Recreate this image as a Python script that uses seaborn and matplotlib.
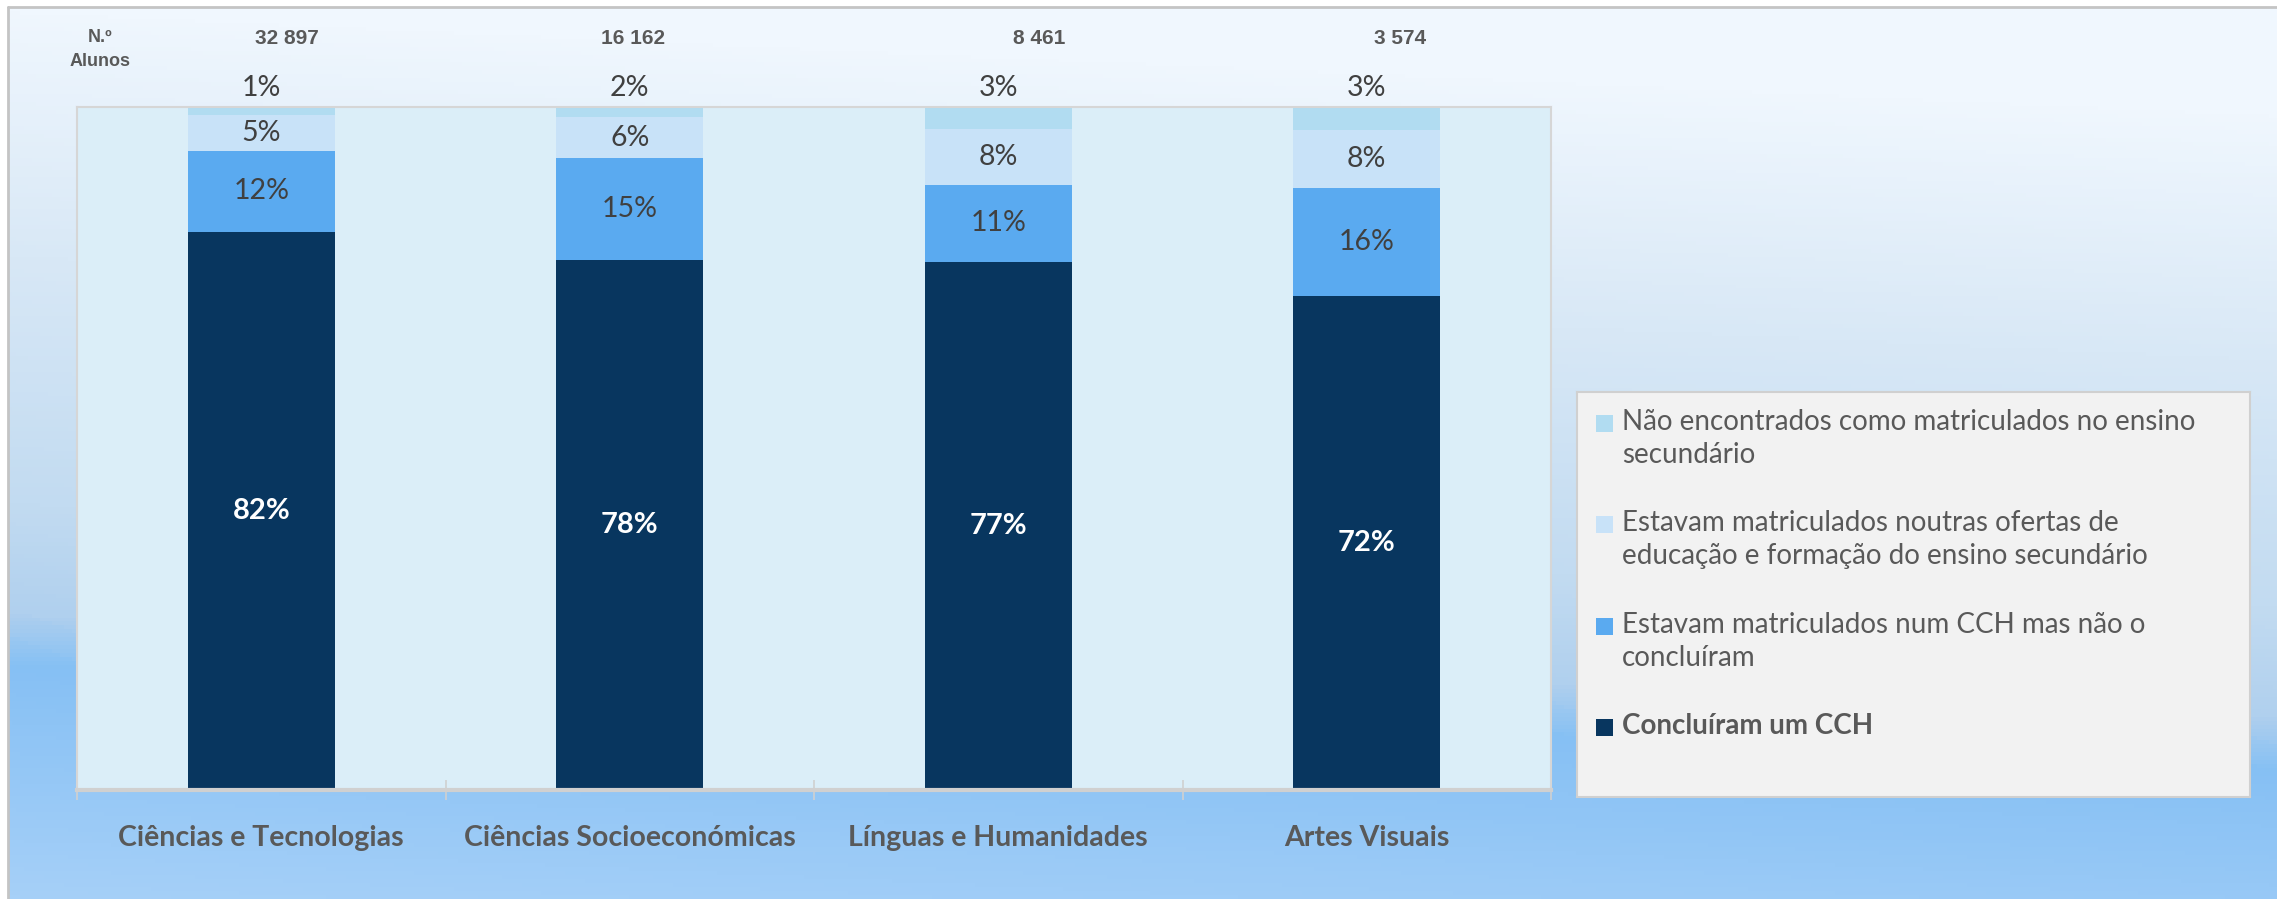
import numpy as np
import pandas as pd
import matplotlib
matplotlib.use("Agg")
import matplotlib.pyplot as plt
import seaborn as sns
from matplotlib.colors import LinearSegmentedColormap
from matplotlib.patches import Rectangle

# ---- data ----
cursos = ["Ciências e Tecnologias", "Ciências Socioeconómicas",
          "Línguas e Humanidades", "Artes Visuais"]
n_alunos = ["32 897", "16 162", "8 461", "3 574"]
concluiram = [81.7, 77.6, 77.3, 72.4]
nao_concluiram = [11.9, 14.9, 11.3, 15.8]
outras_ofertas = [5.2, 6.0, 8.2, 8.4]
nao_encontrados = [1.2, 1.5, 3.2, 3.4]

series_labels = [
    "Concluíram um CCH",
    "Estavam matriculados num CCH mas não o\nconcluíram",
    "Estavam matriculados noutras ofertas de\neducação e formação do ensino secundário",
    "Não encontrados como matriculados no ensino\nsecundário",
]
colors = ["#08365f", "#5aaaf0", "#c8e2f8", "#b1dcf1"]

W, H = 2277, 899
sns.set_theme(style="white")
plt.rcParams["font.family"] = ["Lato", "DejaVu Sans"]

fig = plt.figure(figsize=(W / 100, H / 100), dpi=100)
fig.patch.set_facecolor("white")

# background gradient panel (slightly tilted band)
bg = fig.add_axes([0, 0, 1, 1], zorder=-10)
bg.set_xlim(0, W)
bg.set_ylim(H, 0)
bg.axis("off")
stops = [(0, "#f0f7fe"), (250, "#d8e8f6"), (500, "#c2dbf1"), (610, "#b0d0ee"),
         (663, "#86c0f4"), (899, "#a6d0f8")]
cmap = LinearSegmentedColormap.from_list("bgc", [(p / 899, c) for p, c in stops])
yy, xx = np.mgrid[0:H:4, 0:W:4]
yeff = np.clip((yy - 0.046 * xx) / 899, 0, 1)
bg.imshow(yeff, cmap=cmap, vmin=0, vmax=1, aspect="auto", extent=(8, W, H, 7))
bg.plot([8, 8], [7, H], color="#c4c4c4", lw=2)
bg.plot([8, W], [7, 7], color="#c4c4c4", lw=2)

# main axes
left, right, top, bottom = 77, 1551, 107, 790
ax = fig.add_axes([left / W, (H - bottom) / H, (right - left) / W, (bottom - top) / H])
ax.set_facecolor("#dbeef8")

df = pd.DataFrame({"curso": cursos})
stack = [concluiram, nao_concluiram, outras_ofertas, nao_encontrados]
cum = np.cumsum(np.array(stack), axis=0)
for k in range(len(stack) - 1, -1, -1):
    df["cum"] = cum[k]
    sns.barplot(data=df, x="curso", y="cum", color=colors[k], saturation=1,
                width=0.4, errorbar=None, ax=ax, linewidth=0)

ax.set_xlim(-0.5, 3.5)
ax.set_ylim(0, 100)
ax.set_xlabel("")
ax.set_ylabel("")
ax.set_yticks([])

# segment labels
for i in range(len(cursos)):
    base = 0
    for k, vals in enumerate(stack):
        v = vals[i]
        if k == 0:
            ax.text(i, base + v / 2, f"{v:.0f}%", ha="center", va="center",
                    color="white", fontsize=21, fontweight="bold")
        elif k == 3:
            ax.annotate(f"{v:.0f}%", xy=(i, 100), xytext=(0, 14),
                        textcoords="offset points", ha="center", va="center",
                        color="#404040", fontsize=20.5, annotation_clip=False)
        else:
            ax.text(i, base + v / 2, f"{v:.0f}%", ha="center", va="center",
                    color="#404040", fontsize=20.5)
        base += v

# number of students row
num_x = [0.07, 1.01, 2.11, 3.09]
for x, n in zip(num_x, n_alunos):
    ax.text(x, 1.101, n, transform=ax.get_xaxis_transform(), ha="center",
            va="center", fontsize=15, fontweight="bold", color="#595959",
            family="Liberation Sans")
fig.text(100 / W, 1 - 38 / H, "N.º", ha="center", va="center", fontsize=13,
         fontweight="bold", color="#595959", family="Liberation Sans")
fig.text(100 / W, 1 - 61 / H, "Alunos", ha="center", va="center", fontsize=13,
         fontweight="bold", color="#595959", family="Liberation Sans")

# axes styling
for s in ["top", "left", "right"]:
    ax.spines[s].set_color("#d6d6d6")
    ax.spines[s].set_linewidth(1.5)
ax.spines["bottom"].set_color("#d0d0d0")
ax.spines["bottom"].set_linewidth(3)
ax.set_xticks(range(4))
ax.set_xticklabels(cursos, fontsize=20.5, fontweight="bold", color="#595959")
ax.tick_params(axis="x", which="major", length=0, pad=25)
ax.set_xticks([-0.5, 0.5, 1.5, 2.5, 3.5], minor=True)
ax.tick_params(axis="x", which="minor", length=15, width=1.2,
               color="#d0d0d0", direction="inout", bottom=True)

# legend box
lx0, lx1, ly0, ly1 = 1577, 2250, 392, 797
lax = fig.add_axes([lx0 / W, (H - ly1) / H, (lx1 - lx0) / W, (ly1 - ly0) / H])
lax.set_xlim(lx0, lx1)
lax.set_ylim(ly1, ly0)
lax.set_facecolor("#f2f2f2")
lax.set_xticks([])
lax.set_yticks([])
for s in lax.spines.values():
    s.set_color("#d0d0d0")
    s.set_linewidth(1.5)
entry_y = [423, 524, 626, 727]
for j, k in enumerate([3, 2, 1, 0]):
    y = entry_y[j]
    lax.add_patch(Rectangle((1596, y - 8), 17, 17, color=colors[k], lw=0))
    lax.text(1622, y - 14, series_labels[k], ha="left", va="top",
             fontsize=20, color="#595959", linespacing=1.35,
             fontweight="bold" if k == 0 else "normal")

fig.savefig("out.png", dpi=100)
